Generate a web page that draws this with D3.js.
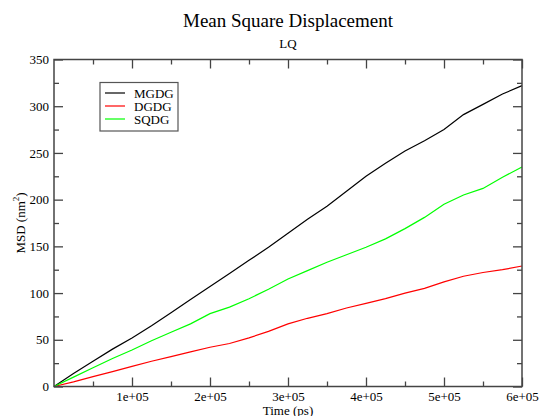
<!DOCTYPE html>
<html lang="en">
<head>
<meta charset="utf-8">
<title>Mean Square Displacement</title>
<style>
  body { margin: 0; background: #fff; }
  svg text { font-family: "Liberation Serif", "Times New Roman", serif; fill: #000; }
</style>
</head>
<body>
<svg width="541" height="416"></svg>
<script src="https://cdn.jsdelivr.net/npm/d3@7"></script>
<script>
  // time in ps, every 25000 ps
  const times = [0, 25000, 50000, 75000, 100000, 125000, 150000, 175000, 200000,
    225000, 250000, 275000, 300000, 325000, 350000, 375000, 400000, 425000,
    450000, 475000, 500000, 525000, 550000, 575000, 600000];
  const mgdg = [0, 14, 27, 40, 52, 65, 79, 93, 107, 121, 135, 149, 164, 179, 193,
    209, 225, 239, 252, 263, 275, 291, 302, 313, 322];
  const dgdg = [0, 5, 10.5, 16, 21.5, 27, 32, 37, 42, 46, 52, 59, 67, 73, 78,
    84, 89, 94, 100, 105, 112, 118, 122, 125, 129];
  const sqdg = [0, 10, 20, 30, 39, 49, 58, 67, 78, 85, 94, 104, 115, 124, 133,
    141, 149, 158, 169, 181, 195, 205, 212, 224, 235];

  const seriesNames = ['MGDG', 'DGDG', 'SQDG'];
  const seriesValues = [mgdg, dgdg, sqdg];
  const colours = ['#000000', '#ff0000', '#00ff00'];

  const xTicks = [100000, 200000, 300000, 400000, 500000, 600000];
  const xMinor = [50000, 150000, 250000, 350000, 450000, 550000];
  const yTicks = [0, 50, 100, 150, 200, 250, 300, 350];
  const yMinor = [25, 75, 125, 175, 225, 275, 325];

  const svg = d3.select('svg');
  const plotL = 54, plotR = 522, plotT = 59.5, plotB = 386.5;

  const x = d3.scaleLinear().domain([0, 600000]).range([plotL, plotR]);
  const y = d3.scaleLinear().domain([0, 350]).range([plotB, plotT]);

  // data lines (drawn under the frame)
  const line = d3.line()
    .x(function(d) { return x(d[0]); })
    .y(function(d) { return y(d[1]); });

  svg.selectAll('path.series')
    .data(seriesValues).enter()
    .append('path')
    .attr('class', 'series')
    .attr('fill', 'none')
    .attr('stroke', function(d, i) { return colours[i]; })
    .attr('stroke-width', 1.2)
    .attr('d', function(d) {
      return line(d.map(function(v, i) { return [times[i], v]; }));
    });

  // axes, ticks pointing inward on every side
  function styleAxis(g) {
    g.select('.domain').remove();
    g.selectAll('line').attr('stroke', '#444').attr('stroke-width', 1.3);
    g.selectAll('text').attr('font-size', 13).attr('font-family', '"Liberation Serif", serif');
  }

  svg.append('g').attr('transform', 'translate(0,' + plotB + ')')
    .call(d3.axisBottom(x).tickValues(xTicks).tickSize(-9).tickPadding(5.3)
      .tickFormat(function(d) { return (d / 100000) + 'e+05'; }))
    .call(styleAxis);
  svg.append('g').attr('transform', 'translate(0,' + plotB + ')')
    .call(d3.axisBottom(x).tickValues(xMinor).tickSize(-5).tickFormat(''))
    .call(styleAxis);
  svg.append('g').attr('transform', 'translate(0,' + plotT + ')')
    .call(d3.axisTop(x).tickValues(xTicks).tickSize(-9).tickFormat(''))
    .call(styleAxis);
  svg.append('g').attr('transform', 'translate(0,' + plotT + ')')
    .call(d3.axisTop(x).tickValues(xMinor).tickSize(-5).tickFormat(''))
    .call(styleAxis);

  svg.append('g').attr('transform', 'translate(' + plotL + ',0)')
    .call(d3.axisLeft(y).tickValues(yTicks).tickSize(-9).tickPadding(5))
    .call(styleAxis);
  svg.append('g').attr('transform', 'translate(' + plotL + ',0)')
    .call(d3.axisLeft(y).tickValues(yMinor).tickSize(-5).tickFormat(''))
    .call(styleAxis);
  svg.append('g').attr('transform', 'translate(' + plotR + ',0)')
    .call(d3.axisRight(y).tickValues(yTicks).tickSize(-9).tickFormat(''))
    .call(styleAxis);
  svg.append('g').attr('transform', 'translate(' + plotR + ',0)')
    .call(d3.axisRight(y).tickValues(yMinor).tickSize(-5).tickFormat(''))
    .call(styleAxis);

  // frame
  svg.append('rect')
    .attr('x', plotL).attr('y', plotT)
    .attr('width', plotR - plotL).attr('height', plotB - plotT)
    .attr('fill', 'none').attr('stroke', '#444').attr('stroke-width', 1.5);

  // titles
  svg.append('text')
    .attr('x', 288).attr('y', 27)
    .attr('text-anchor', 'middle').attr('font-size', 19)
    .text('Mean Square Displacement');
  svg.append('text')
    .attr('x', 288).attr('y', 47.5)
    .attr('text-anchor', 'middle').attr('font-size', 13)
    .text('LQ');

  svg.append('text')
    .attr('x', 288).attr('y', 415)
    .attr('text-anchor', 'middle').attr('font-size', 13)
    .text('Time (ps)');

  const yLabel = svg.append('text')
    .attr('transform', 'translate(25,' + ((plotT + plotB) / 2) + ') rotate(-90)')
    .attr('text-anchor', 'middle').attr('font-size', 13);
  yLabel.append('tspan').text('MSD (nm');
  yLabel.append('tspan').attr('font-size', 9).attr('dy', -6).text('2');
  yLabel.append('tspan').attr('dy', 6).text(')');

  // legend
  const legend = svg.append('g');
  legend.append('rect')
    .attr('x', 100).attr('y', 82.5).attr('width', 78).attr('height', 48.5)
    .attr('fill', '#fff').attr('stroke', '#555').attr('stroke-width', 1.2);

  const rows = legend.selectAll('g.row')
    .data(seriesNames).enter()
    .append('g')
    .attr('class', 'row')
    .attr('transform', function(d, i) { return 'translate(0,' + (97.5 + i * 13) + ')'; });
  rows.append('line')
    .attr('x1', 105).attr('x2', 125)
    .attr('y1', -4.5).attr('y2', -4.5)
    .attr('stroke', function(d, i) { return colours[i]; })
    .attr('stroke-width', 1.2);
  rows.append('text')
    .attr('x', 134).attr('y', 0)
    .attr('font-size', 13)
    .text(function(d) { return d; });
</script>
</body>
</html>
